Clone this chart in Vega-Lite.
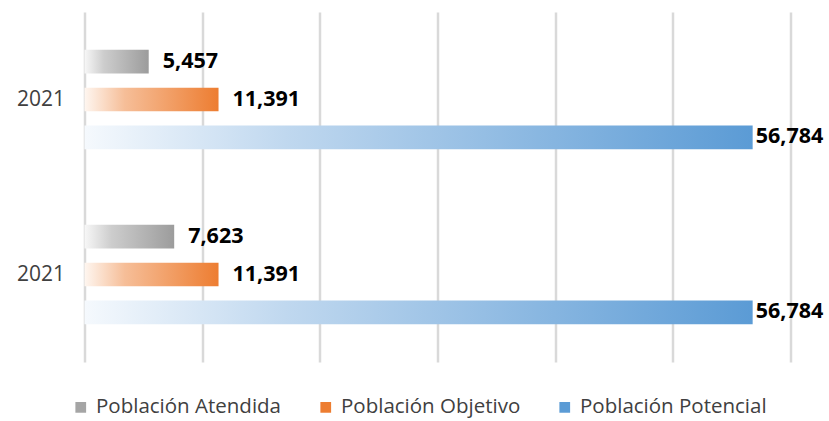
{
  "$schema": "https://vega.github.io/schema/vega-lite/v6.json",
  "width": 706,
  "height": 350,
  "autosize": {"type": "none"},
  "padding": {"left": 84.5, "top": 12, "right": 38.5, "bottom": 59},
  "config": {"view": {"stroke": null}, "font": "Open Sans"},
  "data": {
    "values": [
      {"g": 1, "serie": "Población Atendida", "valor": 5457},
      {"g": 1, "serie": "Población Objetivo", "valor": 11391},
      {"g": 1, "serie": "Población Potencial", "valor": 56784},
      {"g": 2, "serie": "Población Atendida", "valor": 7623},
      {"g": 2, "serie": "Población Objetivo", "valor": 11391},
      {"g": 2, "serie": "Población Potencial", "valor": 56784}
    ]
  },
  "encoding": {
    "y": {
      "field": "g",
      "type": "nominal",
      "scale": {"paddingInner": 0, "paddingOuter": 0},
      "axis": {
        "title": null,
        "labelExpr": "'2021'",
        "domain": false,
        "ticks": false,
        "labelFontSize": 21,
        "labelColor": "#404040",
        "labelPadding": 20,
        "grid": false
      }
    },
    "yOffset": {
      "field": "serie",
      "type": "nominal",
      "scale": {
        "domain": ["Población Atendida", "Población Objetivo", "Población Potencial"],
        "paddingInner": 0.378,
        "paddingOuter": 1.054
      }
    },
    "x": {
      "field": "valor",
      "type": "quantitative",
      "scale": {"domain": [0, 60000], "nice": false},
      "axis": {
        "title": null,
        "labels": false,
        "ticks": false,
        "domain": false,
        "values": [0, 10000, 20000, 30000, 40000, 50000, 60000],
        "gridColor": "#d9d9d9",
        "gridWidth": 2.5
      }
    }
  },
  "layer": [
    {
      "transform": [{"filter": "datum.serie === 'Población Atendida'"}],
      "mark": {
        "type": "bar",
        "fill": {"gradient": "linear", "x1": 0, "x2": 1, "y1": 0, "y2": 0,
          "stops": [{"offset": 0, "color": "#f7f7f7"}, {"offset": 0.3, "color": "#cdcdcd"}, {"offset": 1, "color": "#9c9c9c"}]}
      }
    },
    {
      "transform": [{"filter": "datum.serie === 'Población Objetivo'"}],
      "mark": {
        "type": "bar",
        "fill": {"gradient": "linear", "x1": 0, "x2": 1, "y1": 0, "y2": 0,
          "stops": [{"offset": 0, "color": "#fef6f0"}, {"offset": 0.3, "color": "#f6be98"}, {"offset": 1, "color": "#ed7d31"}]}
      }
    },
    {
      "transform": [{"filter": "datum.serie === 'Población Potencial'"}],
      "mark": {
        "type": "bar",
        "fill": {"gradient": "linear", "x1": 0, "x2": 1, "y1": 0, "y2": 0,
          "stops": [{"offset": 0, "color": "#f5f9fd"}, {"offset": 0.3, "color": "#c0d8ef"}, {"offset": 1, "color": "#5b9bd5"}]}
      }
    },
    {
      "mark": {"type": "square", "size": 0, "opacity": 1, "filled": true},
      "encoding": {
        "color": {
          "field": "serie",
          "type": "nominal",
          "scale": {
            "domain": ["Población Atendida", "Población Objetivo", "Población Potencial"],
            "range": ["#a5a5a5", "#ed7d31", "#5b9bd5"]
          },
          "legend": {
            "title": null,
            "orient": "none",
            "direction": "horizontal",
            "legendX": -14,
            "legendY": 385,
            "symbolType": "square",
            "symbolSize": 115,
            "labelFontSize": 20.5,
            "labelColor": "#404040",
            "labelOffset": 5,
            "labelLimit": 400,
            "columnPadding": 34
          }
        }
      }
    },
    {
      "transform": [{"filter": "datum.serie !== 'Población Potencial'"}],
      "mark": {"type": "text", "align": "left", "baseline": "middle", "dx": 14, "fontSize": 21.5, "fontWeight": "bold", "color": "#000000"},
      "encoding": {"text": {"field": "valor", "type": "quantitative", "format": ",d"}}
    },
    {
      "transform": [{"filter": "datum.serie === 'Población Potencial'"}],
      "mark": {"type": "text", "align": "left", "baseline": "middle", "dx": 3, "fontSize": 21.5, "fontWeight": "bold", "color": "#000000"},
      "encoding": {"text": {"field": "valor", "type": "quantitative", "format": ",d"}}
    }
  ]
}
